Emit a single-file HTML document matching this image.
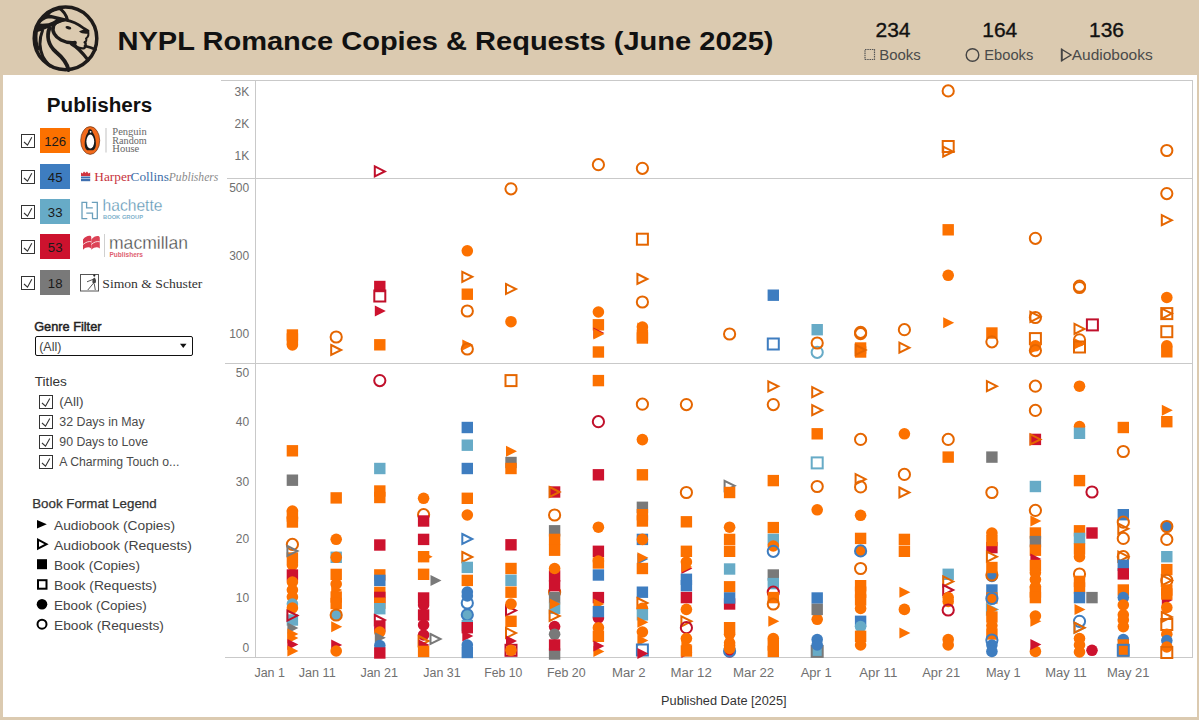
<!DOCTYPE html>
<html><head><meta charset="utf-8"><style>
html,body{margin:0;padding:0;width:1199px;height:720px;overflow:hidden;background:#DBCAB0;}
svg{display:block;font-family:"Liberation Sans", sans-serif;}
</style></head><body>
<svg width="1199" height="720" viewBox="0 0 1199 720">
<rect x="0" y="0" width="1199" height="720" fill="#DBCAB0"/>
<rect x="3" y="75" width="1194" height="642" fill="#fff"/>
<g fill="#1E1B1A">
<path d="M34.5 33 C37 22 46 12 58 7.5 L64 11 L67.5 20 L56 24.5 L49 27.5 L42 30.5 Z"/>
</g>
<g fill="#DBCAB0">
<path d="M49.5 14.6 C52 12 56 10.4 61.5 9.8 C63.5 12.5 65 15.5 66 18.6 C61 17.2 55 15.8 49.5 14.6 Z"/>
<path d="M39.8 23.6 C42 21 45.5 18.8 48 18.5 C51 18.3 54 18.6 56 19.6 C53.5 21.2 51 22.6 48.5 23.2 C46 23.6 43 23.7 39.8 23.6 Z"/>
</g>
<g fill="none" stroke="#1E1B1A" stroke-linecap="round" stroke-linejoin="round">
<circle cx="65.5" cy="38.4" r="31.3" stroke-width="3.5"/>
<path d="M59 8 C63 10.5 66 14 67.5 20" stroke-width="3"/>
<path d="M53.5 26 C56.5 21.5 61 20 66 20.2 C72 21 78 24 84 28.5 L88 31" stroke-width="2.8"/>
<path d="M88 31 C89 34 88 37 86 38.5 C87 40 86 42 84.5 42.5" stroke-width="2"/>
<path d="M53.5 26 C51.5 31 55 37 61 40 C66 42.5 71 43 75 42.5" stroke-width="3.6"/>
<path d="M75 42.5 C74.5 46.5 78 48.8 84 48.3 C86 47.3 86.3 44 85 42" stroke-width="2.4"/>
<path d="M49.5 28 C46.5 36 48 45 56 52 C62 57 67 62 68.5 70" stroke-width="3.9"/>
<path d="M42.5 30.5 C39.5 38 39 48 43 57 C45 61 48 64 50 66" stroke-width="3"/>
<path d="M36.5 31 C35.5 38 36 44 38.5 49" stroke-width="2.8"/>
<path d="M71.5 44 C77 47 82 52 88 60" stroke-width="3.2"/>
<path d="M85 46 C89 47 92 48 95.5 49.5" stroke-width="2.8"/>
</g>
<g fill="#1E1B1A">
<ellipse cx="68.4" cy="27.8" rx="3" ry="1.5" transform="rotate(15 68.4 27.8)"/>
<path d="M79 31.5 C82 29.5 86 29.5 88.5 30.5 L88.5 33.5 C85 34 81 33.5 79 31.5Z"/>
</g>

<text x="117.5" y="49.7" font-size="26.5" fill="#111" font-weight="bold" text-anchor="start" textLength="656" lengthAdjust="spacingAndGlyphs">NYPL Romance Copies &amp; Requests (June 2025)</text>
<text x="893" y="36.75" font-size="20.2" fill="#111" font-weight="normal" text-anchor="middle" stroke="#111" stroke-width="0.35" textLength="35" lengthAdjust="spacingAndGlyphs">234</text>
<text x="999.75" y="36.75" font-size="20.2" fill="#111" font-weight="normal" text-anchor="middle" stroke="#111" stroke-width="0.35" textLength="35" lengthAdjust="spacingAndGlyphs">164</text>
<text x="1106.5" y="36.75" font-size="20.2" fill="#111" font-weight="normal" text-anchor="middle" stroke="#111" stroke-width="0.35" textLength="35" lengthAdjust="spacingAndGlyphs">136</text>
<text x="879.3" y="59.9" font-size="15" fill="#4a4a4a" font-weight="normal" text-anchor="start"  textLength="41.5" lengthAdjust="spacingAndGlyphs">Books</text>
<rect x="865" y="49.5" width="9.5" height="10" fill="none" stroke="#555" stroke-width="1.2" stroke-dasharray="1.5 0.8"/>
<circle cx="972.5" cy="55" r="6.3" fill="none" stroke="#444" stroke-width="1.4"/>
<text x="984.3" y="59.9" font-size="15" fill="#4a4a4a" font-weight="normal" text-anchor="start"  textLength="49" lengthAdjust="spacingAndGlyphs">Ebooks</text>
<path d="M1062 49.5L1071 55L1062 60.5Z" fill="none" stroke="#444" stroke-width="1.4"/>
<line x1="1061.5" y1="48.5" x2="1061.5" y2="61.5" stroke="#444" stroke-width="1.4"/>
<text x="1071.7" y="59.9" font-size="15" fill="#4a4a4a" font-weight="normal" text-anchor="start"  textLength="81" lengthAdjust="spacingAndGlyphs">Audiobooks</text>
<text x="46.8" y="111.6" font-size="19.5" fill="#111" font-weight="bold" text-anchor="start"  textLength="105.5" lengthAdjust="spacingAndGlyphs">Publishers</text>
<rect x="21.5" y="134.5" width="13" height="13" fill="#fff" stroke="#333" stroke-width="1"/>
<path d="M24 142L27.5 145.2L31.8 137.3" fill="none" stroke="#333" stroke-width="1.1"/>
<rect x="40" y="128" width="30" height="25" fill="#FC7100"/>
<text x="55.2" y="146" font-size="13.2" fill="#1a1a1a" font-weight="normal" text-anchor="middle" >126</text>
<rect x="21.5" y="170.5" width="13" height="13" fill="#fff" stroke="#333" stroke-width="1"/>
<path d="M24 178L27.5 181.2L31.8 173.3" fill="none" stroke="#333" stroke-width="1.1"/>
<rect x="40" y="164" width="30" height="25" fill="#3E7DC0"/>
<text x="55.2" y="182" font-size="13.2" fill="#1a1a1a" font-weight="normal" text-anchor="middle" >45</text>
<rect x="21.5" y="205.5" width="13" height="13" fill="#fff" stroke="#333" stroke-width="1"/>
<path d="M24 213L27.5 216.2L31.8 208.3" fill="none" stroke="#333" stroke-width="1.1"/>
<rect x="40" y="199" width="30" height="25" fill="#67ABC7"/>
<text x="55.2" y="217" font-size="13.2" fill="#1a1a1a" font-weight="normal" text-anchor="middle" >33</text>
<rect x="21.5" y="240.5" width="13" height="13" fill="#fff" stroke="#333" stroke-width="1"/>
<path d="M24 248L27.5 251.2L31.8 243.3" fill="none" stroke="#333" stroke-width="1.1"/>
<rect x="40" y="234" width="30" height="25" fill="#CD122E"/>
<text x="55.2" y="252" font-size="13.2" fill="#1a1a1a" font-weight="normal" text-anchor="middle" >53</text>
<rect x="21.5" y="276.5" width="13" height="13" fill="#fff" stroke="#333" stroke-width="1"/>
<path d="M24 284L27.5 287.2L31.8 279.3" fill="none" stroke="#333" stroke-width="1.1"/>
<rect x="40" y="270" width="30" height="25" fill="#797979"/>
<text x="55.2" y="288" font-size="13.2" fill="#1a1a1a" font-weight="normal" text-anchor="middle" >18</text>
<g>
<!-- Penguin -->
<ellipse cx="90.2" cy="140.5" rx="9.5" ry="13.9" fill="#F26A1B" stroke="#6a3010" stroke-width="0.7"/>
<path d="M89.6 129.3 C91.5 129 92.6 130.5 92.6 132.2 C94.8 135 96.3 140.5 95.8 145.5 C95.5 148 94.5 149.6 93.2 150.2 L87.2 150.2 C86 149.6 85 148 84.8 145.5 C84.4 140.5 85.8 135 88 132.2 C88 130.6 88.6 129.6 89.6 129.3Z" fill="#1a1a1a"/>
<ellipse cx="90.3" cy="141.6" rx="3.9" ry="7" fill="#fff"/>
<circle cx="90.6" cy="131.8" r="0.9" fill="#fff"/>
<line x1="106" y1="128" x2="106" y2="152.5" stroke="#cfcfcf" stroke-width="1.3"/>
<text x="112.3" y="135" font-family="Liberation Serif" font-size="9.6" fill="#666" textLength="34.5" lengthAdjust="spacingAndGlyphs">Penguin</text>
<text x="112.3" y="143.7" font-family="Liberation Serif" font-size="9.6" fill="#666" textLength="34.5" lengthAdjust="spacingAndGlyphs">Random</text>
<text x="112.3" y="152.2" font-family="Liberation Serif" font-size="9.6" fill="#666" textLength="27" lengthAdjust="spacingAndGlyphs">House</text>
<!-- HarperCollins -->
<path d="M81 176 L81 172.5 L82.5 173.5 L84 171.5 L85.5 173 L87 171.5 L88.5 173.5 L90.2 172.5 L90.2 176 Z" fill="#D0343F"/>
<rect x="81" y="176.5" width="9.2" height="1.6" fill="#3E6FB0"/>
<rect x="81" y="178.6" width="9.2" height="2.6" fill="#3E6FB0"/>
<text x="94.3" y="180.9" font-family="Liberation Serif" font-size="12.4" fill="#C7333D" textLength="37" lengthAdjust="spacingAndGlyphs">Harper</text>
<text x="130.6" y="180.9" font-family="Liberation Serif" font-size="12.4" fill="#3C6DA8" textLength="38.3" lengthAdjust="spacingAndGlyphs">Collins</text>
<text x="168.8" y="180.9" font-family="Liberation Serif" font-size="12.4" font-style="italic" fill="#8a8a8a" textLength="49.5" lengthAdjust="spacingAndGlyphs">Publishers</text>
<!-- Hachette -->
<g fill="none" stroke="#6A9FBB" stroke-width="1.3">
<path d="M87.3 202.4 H82 V218.6 H87.3"/>
<path d="M86.6 202.4 V207.9 H92.8"/>
<path d="M91.8 202.4 H97.3 V218.6 H92.1"/>
<path d="M92.5 218.6 V213.1 H86.3"/>
</g>
<text x="102.5" y="210.5" font-family="Liberation Sans" font-size="16.5" fill="#5893B3" stroke="#fff" stroke-width="0.3" textLength="60" lengthAdjust="spacingAndGlyphs">hachette</text>
<text x="103" y="218.6" font-family="Liberation Sans" font-size="6" font-weight="bold" fill="#7FB2CC" textLength="40" lengthAdjust="spacingAndGlyphs">BOOK GROUP</text>
<!-- Macmillan -->
<path d="M83 239.5 C85 236.5 88 235.5 90 235.8 C91 236 91.5 237 91.3 238.5 L91.3 248.5 C89 246.5 86 247 83 249.7 Z" fill="#D8394E"/>
<path d="M91.3 239.5 C93.5 236.5 96.5 235.5 98.5 236 C99.5 236.5 100 237.5 99.8 238.5 L99.8 248.5 C97.5 246.5 94.5 247 91.3 249.7 Z" fill="#DC4457"/>
<path d="M83 244.5 C86 242 89 241 91.3 241.8 M91.3 244.5 C94 242 97 241 99.8 241.8" fill="none" stroke="#fff" stroke-width="0.8"/>
<line x1="104.5" y1="234" x2="104.5" y2="257" stroke="#d0d0d0" stroke-width="1"/>
<text x="109" y="249" font-family="Liberation Sans" font-size="19" fill="#444" stroke="#fff" stroke-width="0.35" textLength="79" lengthAdjust="spacingAndGlyphs">macmillan</text>
<text x="109.5" y="257" font-family="Liberation Sans" font-size="6.8" font-weight="bold" fill="#E0606F" textLength="33.5" lengthAdjust="spacingAndGlyphs">Publishers</text>
<!-- Simon & Schuster -->
<rect x="80.5" y="274.5" width="18" height="16.5" fill="none" stroke="#555" stroke-width="1"/>
<circle cx="94.3" cy="275.6" r="1.1" fill="#222"/>
<path d="M94.5 277.5 C96 279 96.5 281 95.5 283 L93 284 C92 282 92 279 94.5 277.5Z" fill="#444"/>
<path d="M93.5 279.2 L87 281.8 M92.8 284 L87.8 290 M94.3 284 L95.3 290" fill="none" stroke="#444" stroke-width="0.9"/>
<text x="102.3" y="288.4" font-family="Liberation Serif" font-size="13.5" fill="#333" textLength="100" lengthAdjust="spacingAndGlyphs">Simon &amp; Schuster</text>
</g>

<text x="34.2" y="330.8" font-size="12.8" fill="#222" font-weight="normal" text-anchor="start" stroke="#222" stroke-width="0.45" textLength="67.3" lengthAdjust="spacingAndGlyphs">Genre Filter</text>
<rect x="35.5" y="336.5" width="157" height="19" rx="1.5" fill="#fff" stroke="#111" stroke-width="1"/>
<text x="39.2" y="350.5" font-size="12.5" fill="#444" font-weight="normal" text-anchor="start"  textLength="22.2" lengthAdjust="spacingAndGlyphs">(All)</text>
<path d="M180 343.8L186.5 343.8L183.25 348Z" fill="#111"/>
<text x="34.8" y="385.6" font-size="12.8" fill="#333" font-weight="normal" text-anchor="start"  textLength="32" lengthAdjust="spacingAndGlyphs">Titles</text>
<rect x="39.5" y="395.5" width="13" height="13" fill="#fff" stroke="#333" stroke-width="1"/>
<path d="M42 403.0L45.5 406.2L49.8 398.5" fill="none" stroke="#333" stroke-width="1.1"/>
<text x="59.3" y="406.3" font-size="12.5" fill="#4a4a4a" font-weight="normal" text-anchor="start"  textLength="24.3" lengthAdjust="spacingAndGlyphs">(All)</text>
<rect x="39.5" y="415.5" width="13" height="13" fill="#fff" stroke="#333" stroke-width="1"/>
<path d="M42 423.0L45.5 426.2L49.8 418.5" fill="none" stroke="#333" stroke-width="1.1"/>
<text x="59.3" y="426.3" font-size="12.5" fill="#4a4a4a" font-weight="normal" text-anchor="start"  textLength="85.4" lengthAdjust="spacingAndGlyphs">32 Days in May</text>
<rect x="39.5" y="435.5" width="13" height="13" fill="#fff" stroke="#333" stroke-width="1"/>
<path d="M42 443.0L45.5 446.2L49.8 438.5" fill="none" stroke="#333" stroke-width="1.1"/>
<text x="59.3" y="446.3" font-size="12.5" fill="#4a4a4a" font-weight="normal" text-anchor="start"  textLength="88.9" lengthAdjust="spacingAndGlyphs">90 Days to Love</text>
<rect x="39.5" y="455.5" width="13" height="13" fill="#fff" stroke="#333" stroke-width="1"/>
<path d="M42 463.0L45.5 466.2L49.8 458.5" fill="none" stroke="#333" stroke-width="1.1"/>
<text x="59.3" y="466.3" font-size="12.5" fill="#4a4a4a" font-weight="normal" text-anchor="start"  textLength="120" lengthAdjust="spacingAndGlyphs">A Charming Touch o...</text>
<text x="32.2" y="507.9" font-size="12.8" fill="#333" font-weight="normal" text-anchor="start" stroke="#333" stroke-width="0.25" textLength="124.5" lengthAdjust="spacingAndGlyphs">Book Format Legend</text>
<path d="M37 519.9000000000001L46.8 524.2L37 528.5Z" fill="#000"/>
<text x="54" y="530" font-size="13" fill="#444" font-weight="normal" text-anchor="start"  textLength="121" lengthAdjust="spacingAndGlyphs">Audiobook (Copies)</text>
<path d="M38 539.7L46.5 544.2L38 548.7Z" fill="none" stroke="#000" stroke-width="2"/>
<text x="54" y="550" font-size="13" fill="#444" font-weight="normal" text-anchor="start"  textLength="138" lengthAdjust="spacingAndGlyphs">Audiobook (Requests)</text>
<rect x="37" y="559.2" width="10" height="10" fill="#000"/>
<text x="54" y="570" font-size="13" fill="#444" font-weight="normal" text-anchor="start"  textLength="85.9" lengthAdjust="spacingAndGlyphs">Book (Copies)</text>
<rect x="38" y="580.2" width="8.5" height="8.5" fill="none" stroke="#000" stroke-width="2"/>
<text x="54" y="590" font-size="13" fill="#444" font-weight="normal" text-anchor="start"  textLength="102.8" lengthAdjust="spacingAndGlyphs">Book (Requests)</text>
<circle cx="42" cy="604.2" r="5.3" fill="#000"/>
<text x="54" y="610" font-size="13" fill="#444" font-weight="normal" text-anchor="start"  textLength="92.8" lengthAdjust="spacingAndGlyphs">Ebook (Copies)</text>
<circle cx="42" cy="624.2" r="4.5" fill="none" stroke="#000" stroke-width="2"/>
<text x="54" y="630" font-size="13" fill="#444" font-weight="normal" text-anchor="start"  textLength="109.9" lengthAdjust="spacingAndGlyphs">Ebook (Requests)</text>
<line x1="221" y1="80.5" x2="1193" y2="80.5" stroke="#C9C9C9" stroke-width="1"/>
<line x1="1192.5" y1="80" x2="1192.5" y2="658" stroke="#C9C9C9" stroke-width="1"/>
<line x1="255.5" y1="80" x2="255.5" y2="658" stroke="#C9C9C9" stroke-width="1"/>
<line x1="227" y1="178.5" x2="1193" y2="178.5" stroke="#C9C9C9" stroke-width="1"/>
<line x1="225" y1="363.5" x2="1193" y2="363.5" stroke="#C9C9C9" stroke-width="1"/>
<line x1="225" y1="657.5" x2="1193" y2="657.5" stroke="#C9C9C9" stroke-width="1"/>
<text x="249.2" y="96.4" font-size="12" fill="#707070" font-weight="normal" text-anchor="end" >3K</text>
<text x="249.2" y="128.0" font-size="12" fill="#707070" font-weight="normal" text-anchor="end" >2K</text>
<text x="249.2" y="160.1" font-size="12" fill="#707070" font-weight="normal" text-anchor="end" >1K</text>
<text x="249.2" y="192.20000000000002" font-size="12" fill="#707070" font-weight="normal" text-anchor="end" >500</text>
<text x="249.2" y="260.2" font-size="12" fill="#707070" font-weight="normal" text-anchor="end" >300</text>
<text x="249.2" y="338.2" font-size="12" fill="#707070" font-weight="normal" text-anchor="end" >100</text>
<text x="249.2" y="377.0" font-size="12" fill="#707070" font-weight="normal" text-anchor="end" >50</text>
<text x="249.2" y="426.09999999999997" font-size="12" fill="#707070" font-weight="normal" text-anchor="end" >40</text>
<text x="249.2" y="485.5" font-size="12" fill="#707070" font-weight="normal" text-anchor="end" >30</text>
<text x="249.2" y="543.3" font-size="12" fill="#707070" font-weight="normal" text-anchor="end" >20</text>
<text x="249.2" y="602.1999999999999" font-size="12" fill="#707070" font-weight="normal" text-anchor="end" >10</text>
<text x="249.2" y="652.1999999999999" font-size="12" fill="#707070" font-weight="normal" text-anchor="end" >0</text>
<text x="269.7" y="677.3" font-size="12" fill="#707070" font-weight="normal" text-anchor="middle"  textLength="30.6" lengthAdjust="spacingAndGlyphs">Jan 1</text>
<text x="317.2" y="677.3" font-size="12" fill="#707070" font-weight="normal" text-anchor="middle"  textLength="37.0" lengthAdjust="spacingAndGlyphs">Jan 11</text>
<text x="379.2" y="677.3" font-size="12" fill="#707070" font-weight="normal" text-anchor="middle"  textLength="37.6" lengthAdjust="spacingAndGlyphs">Jan 21</text>
<text x="442" y="677.3" font-size="12" fill="#707070" font-weight="normal" text-anchor="middle"  textLength="37.3" lengthAdjust="spacingAndGlyphs">Jan 31</text>
<text x="503.3" y="677.3" font-size="12" fill="#707070" font-weight="normal" text-anchor="middle"  textLength="38.0" lengthAdjust="spacingAndGlyphs">Feb 10</text>
<text x="566.3" y="677.3" font-size="12" fill="#707070" font-weight="normal" text-anchor="middle"  textLength="38.6" lengthAdjust="spacingAndGlyphs">Feb 20</text>
<text x="628.8" y="677.3" font-size="12" fill="#707070" font-weight="normal" text-anchor="middle"  textLength="33.6" lengthAdjust="spacingAndGlyphs">Mar 2</text>
<text x="691.2" y="677.3" font-size="12" fill="#707070" font-weight="normal" text-anchor="middle"  textLength="41.2" lengthAdjust="spacingAndGlyphs">Mar 12</text>
<text x="753.6" y="677.3" font-size="12" fill="#707070" font-weight="normal" text-anchor="middle"  textLength="41.2" lengthAdjust="spacingAndGlyphs">Mar 22</text>
<text x="816.2" y="677.3" font-size="12" fill="#707070" font-weight="normal" text-anchor="middle"  textLength="31.1" lengthAdjust="spacingAndGlyphs">Apr 1</text>
<text x="878.3" y="677.3" font-size="12" fill="#707070" font-weight="normal" text-anchor="middle"  textLength="38.0" lengthAdjust="spacingAndGlyphs">Apr 11</text>
<text x="941.2" y="677.3" font-size="12" fill="#707070" font-weight="normal" text-anchor="middle"  textLength="38.0" lengthAdjust="spacingAndGlyphs">Apr 21</text>
<text x="1003.3" y="677.3" font-size="12" fill="#707070" font-weight="normal" text-anchor="middle"  textLength="34.8" lengthAdjust="spacingAndGlyphs">May 1</text>
<text x="1066" y="677.3" font-size="12" fill="#707070" font-weight="normal" text-anchor="middle"  textLength="41.7" lengthAdjust="spacingAndGlyphs">May 11</text>
<text x="1128.2" y="677.3" font-size="12" fill="#707070" font-weight="normal" text-anchor="middle"  textLength="42.6" lengthAdjust="spacingAndGlyphs">May 21</text>
<text x="723.8" y="705.2" font-size="12" fill="#333" font-weight="normal" text-anchor="middle"  textLength="125.5" lengthAdjust="spacingAndGlyphs">Published Date [2025]</text>
<rect x="286.7" y="329.3" width="11.4" height="11.4" fill="#FC7100"/>
<rect x="286.7" y="333.3" width="11.4" height="11.4" fill="#FC7100"/>
<circle cx="292.4" cy="345.0" r="5.8" fill="#FC7100"/>
<rect x="286.7" y="445.1" width="11.4" height="11.4" fill="#FC7100"/>
<rect x="286.7" y="474.5" width="11.4" height="11.4" fill="#797979"/>
<circle cx="292.4" cy="511.0" r="5.8" fill="#FC7100"/>
<rect x="286.7" y="510.3" width="11.4" height="11.4" fill="#FC7100"/>
<circle cx="292.4" cy="518.0" r="5.8" fill="#FC7100"/>
<rect x="286.7" y="516.3" width="11.4" height="11.4" fill="#FC7100"/>
<circle cx="292.4" cy="544.4" r="5.6" fill="none" stroke="#E56600" stroke-width="2"/>
<rect x="286.7" y="552.3" width="11.4" height="11.4" fill="#FC7100"/>
<path d="M287.4 546.0L297.4 551.0L287.4 556.0Z" fill="none" stroke="#797979" stroke-width="2"/>
<circle cx="292.4" cy="565.0" r="5.8" fill="#FC7100"/>
<rect x="286.7" y="569.3" width="11.4" height="11.4" fill="#CD122E"/>
<circle cx="292.4" cy="582.0" r="5.8" fill="#FC7100"/>
<circle cx="292.4" cy="590.0" r="5.8" fill="#FC7100"/>
<circle cx="292.4" cy="597.0" r="5.8" fill="#FC7100"/>
<circle cx="292.4" cy="604.0" r="5.8" fill="#67ABC7"/>
<circle cx="292.4" cy="608.0" r="5.8" fill="#FC7100"/>
<rect x="286.7" y="614.3" width="11.4" height="11.4" fill="#67ABC7"/>
<path d="M287.4 610.6L297.4 615.6L287.4 620.6Z" fill="none" stroke="#C0102B" stroke-width="2"/>
<path d="M287.4 622.5L298.4 628.0L287.4 633.5Z" fill="#797979"/>
<path d="M287.4 628.5L298.4 634.0L287.4 639.5Z" fill="#FC7100"/>
<path d="M287.4 632.5L298.4 638.0L287.4 643.5Z" fill="#FC7100"/>
<path d="M287.4 638.9L298.4 644.4L287.4 649.9Z" fill="#CD122E"/>
<path d="M287.4 645.5L298.4 651.0L287.4 656.5Z" fill="#FC7100"/>
<circle cx="336.2" cy="337.0" r="5.6" fill="none" stroke="#E56600" stroke-width="2"/>
<path d="M331.2 345.0L341.2 350.0L331.2 355.0Z" fill="none" stroke="#E56600" stroke-width="2"/>
<rect x="330.5" y="492.2" width="11.4" height="11.4" fill="#FC7100"/>
<circle cx="336.2" cy="539.3" r="5.8" fill="#FC7100"/>
<rect x="330.5" y="551.6" width="11.4" height="11.4" fill="#67ABC7"/>
<circle cx="336.2" cy="557.3" r="5.8" fill="#FC7100"/>
<rect x="330.5" y="568.7" width="11.4" height="11.4" fill="#FC7100"/>
<circle cx="336.2" cy="584.0" r="5.8" fill="#FC7100"/>
<path d="M331.2 584.5L342.2 590.0L331.2 595.5Z" fill="#FC7100"/>
<rect x="330.5" y="591.3" width="11.4" height="11.4" fill="#FC7100"/>
<rect x="330.5" y="597.8" width="11.4" height="11.4" fill="#FC7100"/>
<circle cx="336.2" cy="615.0" r="5.8" fill="#67ABC7"/>
<circle cx="336.2" cy="615.0" r="5.6" fill="none" stroke="#E56600" stroke-width="2"/>
<path d="M331.2 621.2L342.2 626.7L331.2 632.2Z" fill="#FC7100"/>
<path d="M331.2 639.5L342.2 645.0L331.2 650.5Z" fill="#CD122E"/>
<circle cx="336.2" cy="651.0" r="5.8" fill="#FC7100"/>
<path d="M374.8 166.4L384.8 171.4L374.8 176.4Z" fill="none" stroke="#C0102B" stroke-width="2"/>
<rect x="374.1" y="280.8" width="11.4" height="11.4" fill="#CD122E"/>
<rect x="374.3" y="290.5" width="11.0" height="11.0" fill="none" stroke="#C0102B" stroke-width="2"/>
<path d="M374.8 305.5L385.8 311.0L374.8 316.5Z" fill="#CD122E"/>
<rect x="374.1" y="339.1" width="11.4" height="11.4" fill="#FC7100"/>
<circle cx="379.8" cy="380.6" r="5.6" fill="none" stroke="#C0102B" stroke-width="2"/>
<rect x="374.1" y="462.8" width="11.4" height="11.4" fill="#67ABC7"/>
<rect x="374.1" y="485.3" width="11.4" height="11.4" fill="#FC7100"/>
<rect x="374.1" y="491.8" width="11.4" height="11.4" fill="#FC7100"/>
<rect x="374.1" y="539.3" width="11.4" height="11.4" fill="#CD122E"/>
<rect x="374.1" y="569.2" width="11.4" height="11.4" fill="#FC7100"/>
<rect x="374.1" y="574.7" width="11.4" height="11.4" fill="#3E7DC0"/>
<rect x="374.1" y="586.7" width="11.4" height="11.4" fill="#FC7100"/>
<rect x="374.1" y="591.7" width="11.4" height="11.4" fill="#CD122E"/>
<rect x="374.1" y="597.5" width="11.4" height="11.4" fill="#FC7100"/>
<rect x="374.1" y="603.0" width="11.4" height="11.4" fill="#67ABC7"/>
<path d="M374.8 615.0L384.8 620.0L374.8 625.0Z" fill="none" stroke="#C0102B" stroke-width="2"/>
<rect x="374.1" y="620.3" width="11.4" height="11.4" fill="#CD122E"/>
<circle cx="379.8" cy="632.0" r="5.8" fill="#FC7100"/>
<path d="M374.8 632.3L385.8 637.8L374.8 643.3Z" fill="#797979"/>
<circle cx="379.8" cy="645.5" r="5.8" fill="#3E7DC0"/>
<rect x="374.1" y="647.3" width="11.4" height="11.4" fill="#CD122E"/>
<circle cx="423.6" cy="498.3" r="5.8" fill="#FC7100"/>
<circle cx="423.6" cy="514.7" r="5.6" fill="none" stroke="#E56600" stroke-width="2"/>
<rect x="417.9" y="515.3" width="11.4" height="11.4" fill="#CD122E"/>
<rect x="417.9" y="533.7" width="11.4" height="11.4" fill="#CD122E"/>
<rect x="417.9" y="551.0" width="11.4" height="11.4" fill="#FC7100"/>
<path d="M421.6 551.2L432.6 556.7L421.6 562.2Z" fill="#FC7100"/>
<rect x="417.9" y="568.6" width="11.4" height="11.4" fill="#FC7100"/>
<rect x="417.9" y="592.3" width="11.4" height="11.4" fill="#CD122E"/>
<circle cx="423.6" cy="605.0" r="5.8" fill="#CD122E"/>
<rect x="417.9" y="609.3" width="11.4" height="11.4" fill="#CD122E"/>
<circle cx="423.6" cy="625.0" r="5.8" fill="#CD122E"/>
<circle cx="423.6" cy="635.0" r="5.8" fill="#CD122E"/>
<path d="M418.6 636.0L428.6 641.0L418.6 646.0Z" fill="none" stroke="#E56600" stroke-width="2"/>
<path d="M418.6 639.5L429.6 645.0L418.6 650.5Z" fill="#CD122E"/>
<rect x="417.9" y="645.7" width="11.4" height="11.4" fill="#FC7100"/>
<circle cx="467.3" cy="250.8" r="5.8" fill="#FC7100"/>
<path d="M462.3 271.8L472.3 276.8L462.3 281.8Z" fill="none" stroke="#E56600" stroke-width="2"/>
<rect x="461.6" y="288.5" width="11.4" height="11.4" fill="#FC7100"/>
<circle cx="467.3" cy="311.0" r="5.6" fill="none" stroke="#E56600" stroke-width="2"/>
<path d="M462.3 339.5L473.3 345.0L462.3 350.5Z" fill="#FC7100"/>
<circle cx="467.3" cy="349.0" r="5.6" fill="none" stroke="#E56600" stroke-width="2"/>
<rect x="461.6" y="421.8" width="11.4" height="11.4" fill="#3E7DC0"/>
<rect x="461.6" y="439.5" width="11.4" height="11.4" fill="#67ABC7"/>
<rect x="461.6" y="462.8" width="11.4" height="11.4" fill="#3E7DC0"/>
<rect x="461.6" y="492.6" width="11.4" height="11.4" fill="#FC7100"/>
<circle cx="467.3" cy="515.0" r="5.8" fill="#FC7100"/>
<path d="M462.3 534.0L472.3 539.0L462.3 544.0Z" fill="none" stroke="#3E7DC0" stroke-width="2"/>
<path d="M462.3 552.0L472.3 557.0L462.3 562.0Z" fill="none" stroke="#E56600" stroke-width="2"/>
<rect x="461.6" y="561.7" width="11.4" height="11.4" fill="#67ABC7"/>
<rect x="461.6" y="574.7" width="11.4" height="11.4" fill="#FC7100"/>
<circle cx="467.3" cy="592.0" r="5.8" fill="#3E7DC0"/>
<circle cx="467.3" cy="603.0" r="5.6" fill="none" stroke="#3E7DC0" stroke-width="2"/>
<circle cx="467.3" cy="596.0" r="5.8" fill="#3E7DC0"/>
<circle cx="467.3" cy="614.8" r="5.8" fill="#67ABC7"/>
<circle cx="467.3" cy="614.8" r="5.6" fill="none" stroke="#3E7DC0" stroke-width="2"/>
<rect x="461.6" y="619.9" width="11.4" height="11.4" fill="#67ABC7"/>
<rect x="461.6" y="622.0" width="11.4" height="11.4" fill="#CD122E"/>
<path d="M462.3 630.5L473.3 636.0L462.3 641.5Z" fill="#CD122E"/>
<circle cx="467.3" cy="645.0" r="5.8" fill="#3E7DC0"/>
<rect x="461.6" y="646.8" width="11.4" height="11.4" fill="#3E7DC0"/>
<circle cx="511.0" cy="188.8" r="5.6" fill="none" stroke="#E56600" stroke-width="2"/>
<path d="M506.0 284.0L516.0 289.0L506.0 294.0Z" fill="none" stroke="#E56600" stroke-width="2"/>
<circle cx="511.0" cy="321.7" r="5.8" fill="#FC7100"/>
<rect x="505.5" y="375.1" width="11.0" height="11.0" fill="none" stroke="#E56600" stroke-width="2"/>
<path d="M506.0 445.7L517.0 451.2L506.0 456.7Z" fill="#FC7100"/>
<rect x="505.3" y="456.8" width="11.4" height="11.4" fill="#797979"/>
<rect x="505.3" y="462.8" width="11.4" height="11.4" fill="#FC7100"/>
<rect x="505.3" y="539.1" width="11.4" height="11.4" fill="#CD122E"/>
<rect x="505.3" y="562.8" width="11.4" height="11.4" fill="#FC7100"/>
<rect x="505.3" y="574.6" width="11.4" height="11.4" fill="#67ABC7"/>
<rect x="505.3" y="586.5" width="11.4" height="11.4" fill="#FC7100"/>
<path d="M506.0 605.5L516.0 610.5L506.0 615.5Z" fill="none" stroke="#C0102B" stroke-width="2"/>
<circle cx="511.0" cy="604.0" r="5.8" fill="#FC7100"/>
<rect x="505.3" y="615.6" width="11.4" height="11.4" fill="#FC7100"/>
<path d="M506.0 628.0L516.0 633.0L506.0 638.0Z" fill="none" stroke="#E56600" stroke-width="2"/>
<path d="M506.0 635.5L517.0 641.0L506.0 646.5Z" fill="#CD122E"/>
<rect x="505.5" y="644.8" width="11.0" height="11.0" fill="none" stroke="#C0102B" stroke-width="2"/>
<circle cx="511.0" cy="650.3" r="5.8" fill="#FC7100"/>
<rect x="548.9" y="486.3" width="11.4" height="11.4" fill="#CD122E"/>
<path d="M549.6 487.0L559.6 492.0L549.6 497.0Z" fill="none" stroke="#E56600" stroke-width="2"/>
<circle cx="554.6" cy="515.0" r="5.6" fill="none" stroke="#E56600" stroke-width="2"/>
<rect x="548.9" y="525.1" width="11.4" height="11.4" fill="#797979"/>
<rect x="548.9" y="533.7" width="11.4" height="11.4" fill="#FC7100"/>
<rect x="548.9" y="544.5" width="11.4" height="11.4" fill="#FC7100"/>
<rect x="548.9" y="570.3" width="11.4" height="11.4" fill="#CD122E"/>
<circle cx="554.6" cy="568.5" r="5.8" fill="#FC7100"/>
<circle cx="554.6" cy="592.2" r="5.6" fill="none" stroke="#E56600" stroke-width="2"/>
<rect x="548.9" y="580.0" width="11.4" height="11.4" fill="#CD122E"/>
<rect x="548.9" y="591.9" width="11.4" height="11.4" fill="#797979"/>
<rect x="548.9" y="602.6" width="11.4" height="11.4" fill="#67ABC7"/>
<path d="M549.6 598.5L560.6 604.0L549.6 609.5Z" fill="#FC7100"/>
<path d="M549.6 610.9L559.6 615.9L549.6 620.9Z" fill="none" stroke="#E56600" stroke-width="2"/>
<circle cx="554.6" cy="626.6" r="5.8" fill="#CD122E"/>
<circle cx="554.6" cy="634.2" r="5.8" fill="#797979"/>
<rect x="548.9" y="648.3" width="11.4" height="11.4" fill="#797979"/>
<rect x="548.9" y="639.3" width="11.4" height="11.4" fill="#CD122E"/>
<circle cx="598.4" cy="164.7" r="5.6" fill="none" stroke="#E56600" stroke-width="2"/>
<circle cx="598.4" cy="312.0" r="5.8" fill="#FC7100"/>
<rect x="592.7" y="319.1" width="11.4" height="11.4" fill="#FC7100"/>
<path d="M593.4 327.5L604.4 333.0L593.4 338.5Z" fill="#CD122E"/>
<path d="M593.4 328.5L604.4 334.0L593.4 339.5Z" fill="#FC7100"/>
<rect x="592.7" y="346.3" width="11.4" height="11.4" fill="#FC7100"/>
<rect x="592.7" y="374.9" width="11.4" height="11.4" fill="#FC7100"/>
<circle cx="598.4" cy="421.7" r="5.6" fill="none" stroke="#C0102B" stroke-width="2"/>
<rect x="592.7" y="469.1" width="11.4" height="11.4" fill="#CD122E"/>
<circle cx="598.4" cy="527.2" r="5.8" fill="#FC7100"/>
<rect x="592.7" y="545.6" width="11.4" height="11.4" fill="#CD122E"/>
<circle cx="598.4" cy="561.0" r="5.8" fill="#FC7100"/>
<rect x="592.7" y="557.3" width="11.4" height="11.4" fill="#FC7100"/>
<rect x="592.7" y="569.3" width="11.4" height="11.4" fill="#3E7DC0"/>
<rect x="592.7" y="591.9" width="11.4" height="11.4" fill="#CD122E"/>
<path d="M593.4 598.5L604.4 604.0L593.4 609.5Z" fill="#FC7100"/>
<circle cx="598.4" cy="618.0" r="5.8" fill="#CD122E"/>
<rect x="592.7" y="605.9" width="11.4" height="11.4" fill="#3E7DC0"/>
<circle cx="598.4" cy="627.7" r="5.8" fill="#FC7100"/>
<rect x="592.7" y="630.6" width="11.4" height="11.4" fill="#FC7100"/>
<path d="M593.4 645.9L604.4 651.4L593.4 656.9Z" fill="#FC7100"/>
<path d="M593.4 640.5L604.4 646.0L593.4 651.5Z" fill="#CD122E"/>
<circle cx="642.4" cy="168.3" r="5.6" fill="none" stroke="#E56600" stroke-width="2"/>
<rect x="636.9" y="233.7" width="11.0" height="11.0" fill="none" stroke="#E56600" stroke-width="2"/>
<path d="M637.4 274.0L647.4 279.0L637.4 284.0Z" fill="none" stroke="#E56600" stroke-width="2"/>
<circle cx="642.4" cy="302.0" r="5.6" fill="none" stroke="#E56600" stroke-width="2"/>
<circle cx="642.4" cy="327.0" r="5.8" fill="#FC7100"/>
<path d="M637.4 322.5L648.4 328.0L637.4 333.5Z" fill="#FC7100"/>
<rect x="636.7" y="329.3" width="11.4" height="11.4" fill="#FC7100"/>
<rect x="636.7" y="332.3" width="11.4" height="11.4" fill="#FC7100"/>
<circle cx="642.4" cy="404.2" r="5.6" fill="none" stroke="#E56600" stroke-width="2"/>
<circle cx="642.4" cy="439.6" r="5.8" fill="#FC7100"/>
<rect x="636.7" y="469.1" width="11.4" height="11.4" fill="#FC7100"/>
<rect x="636.7" y="501.6" width="11.4" height="11.4" fill="#797979"/>
<rect x="636.7" y="509.0" width="11.4" height="11.4" fill="#FC7100"/>
<rect x="636.7" y="515.3" width="11.4" height="11.4" fill="#FC7100"/>
<rect x="636.7" y="533.7" width="11.4" height="11.4" fill="#3E7DC0"/>
<circle cx="642.4" cy="539.4" r="5.8" fill="#FC7100"/>
<path d="M637.4 553.5L648.4 559.0L637.4 564.5Z" fill="#3E7DC0"/>
<path d="M637.4 552.2L648.4 557.7L637.4 563.2Z" fill="#FC7100"/>
<rect x="636.7" y="562.8" width="11.4" height="11.4" fill="#FC7100"/>
<rect x="636.7" y="586.5" width="11.4" height="11.4" fill="#3E7DC0"/>
<path d="M637.4 598.0L647.4 603.0L637.4 608.0Z" fill="none" stroke="#E56600" stroke-width="2"/>
<circle cx="642.4" cy="608.3" r="5.8" fill="#FC7100"/>
<rect x="636.7" y="609.1" width="11.4" height="11.4" fill="#67ABC7"/>
<path d="M637.4 616.8L648.4 622.3L637.4 627.8Z" fill="#FC7100"/>
<circle cx="642.4" cy="632.0" r="5.8" fill="#FC7100"/>
<path d="M637.4 635.1L648.4 640.6L637.4 646.1Z" fill="#FC7100"/>
<rect x="636.9" y="644.5" width="11.0" height="11.0" fill="none" stroke="#3E7DC0" stroke-width="2"/>
<path d="M637.4 648.0L648.4 653.5L637.4 659.0Z" fill="#CD122E"/>
<circle cx="686.4" cy="404.6" r="5.6" fill="none" stroke="#E56600" stroke-width="2"/>
<circle cx="686.4" cy="492.5" r="5.6" fill="none" stroke="#E56600" stroke-width="2"/>
<rect x="680.7" y="516.1" width="11.4" height="11.4" fill="#FC7100"/>
<rect x="680.7" y="545.6" width="11.4" height="11.4" fill="#FC7100"/>
<path d="M681.4 563.0L692.4 568.5L681.4 574.0Z" fill="#CD122E"/>
<circle cx="686.4" cy="562.0" r="5.8" fill="#FC7100"/>
<path d="M681.4 561.5L692.4 567.0L681.4 572.5Z" fill="#FC7100"/>
<rect x="680.7" y="573.6" width="11.4" height="11.4" fill="#3E7DC0"/>
<rect x="680.7" y="580.0" width="11.4" height="11.4" fill="#3E7DC0"/>
<rect x="680.7" y="591.9" width="11.4" height="11.4" fill="#CD122E"/>
<circle cx="686.4" cy="609.4" r="5.8" fill="#FC7100"/>
<path d="M681.4 616.3L691.4 621.3L681.4 626.3Z" fill="none" stroke="#E56600" stroke-width="2"/>
<circle cx="686.4" cy="627.7" r="5.6" fill="none" stroke="#C0102B" stroke-width="2"/>
<circle cx="686.4" cy="638.5" r="5.8" fill="#FC7100"/>
<path d="M681.4 647.0L692.4 652.5L681.4 658.0Z" fill="#CD122E"/>
<path d="M681.4 639.5L692.4 645.0L681.4 650.5Z" fill="#FC7100"/>
<rect x="680.7" y="645.3" width="11.4" height="11.4" fill="#FC7100"/>
<circle cx="729.6" cy="334.0" r="5.6" fill="none" stroke="#E56600" stroke-width="2"/>
<path d="M724.6 480.8L734.6 485.8L724.6 490.8Z" fill="none" stroke="#797979" stroke-width="2"/>
<rect x="723.9" y="486.8" width="11.4" height="11.4" fill="#FC7100"/>
<circle cx="729.6" cy="527.2" r="5.8" fill="#FC7100"/>
<rect x="723.9" y="533.7" width="11.4" height="11.4" fill="#FC7100"/>
<rect x="723.9" y="545.6" width="11.4" height="11.4" fill="#FC7100"/>
<rect x="723.9" y="563.3" width="11.4" height="11.4" fill="#67ABC7"/>
<rect x="723.9" y="581.1" width="11.4" height="11.4" fill="#FC7100"/>
<rect x="723.9" y="598.3" width="11.4" height="11.4" fill="#CD122E"/>
<rect x="723.9" y="592.3" width="11.4" height="11.4" fill="#3E7DC0"/>
<rect x="723.9" y="622.0" width="11.4" height="11.4" fill="#FC7100"/>
<circle cx="729.6" cy="634.2" r="5.8" fill="#FC7100"/>
<circle cx="729.6" cy="652.0" r="5.8" fill="#CD122E"/>
<circle cx="729.6" cy="651.0" r="5.6" fill="none" stroke="#3E7DC0" stroke-width="2"/>
<circle cx="729.6" cy="642.8" r="5.8" fill="#FC7100"/>
<circle cx="729.6" cy="645.5" r="5.8" fill="#FC7100"/>
<circle cx="729.6" cy="648.5" r="5.8" fill="#FC7100"/>
<rect x="767.6" y="289.5" width="11.4" height="11.4" fill="#3E7DC0"/>
<rect x="767.8" y="338.5" width="11.0" height="11.0" fill="none" stroke="#3E7DC0" stroke-width="2"/>
<path d="M768.3 381.3L778.3 386.3L768.3 391.3Z" fill="none" stroke="#E56600" stroke-width="2"/>
<circle cx="773.3" cy="404.6" r="5.6" fill="none" stroke="#E56600" stroke-width="2"/>
<rect x="767.6" y="474.9" width="11.4" height="11.4" fill="#FC7100"/>
<rect x="767.6" y="521.9" width="11.4" height="11.4" fill="#FC7100"/>
<rect x="767.6" y="533.7" width="11.4" height="11.4" fill="#67ABC7"/>
<circle cx="773.3" cy="546.0" r="5.8" fill="#FC7100"/>
<circle cx="773.3" cy="551.3" r="5.6" fill="none" stroke="#3E7DC0" stroke-width="2"/>
<rect x="767.6" y="569.3" width="11.4" height="11.4" fill="#797979"/>
<rect x="767.6" y="577.9" width="11.4" height="11.4" fill="#67ABC7"/>
<circle cx="773.3" cy="592.2" r="5.6" fill="none" stroke="#C0102B" stroke-width="2"/>
<rect x="767.6" y="591.9" width="11.4" height="11.4" fill="#FC7100"/>
<circle cx="773.3" cy="604.0" r="5.6" fill="none" stroke="#E56600" stroke-width="2"/>
<path d="M768.3 615.8L779.3 621.3L768.3 626.8Z" fill="#FC7100"/>
<circle cx="773.3" cy="638.5" r="5.8" fill="#FC7100"/>
<rect x="767.6" y="639.3" width="11.4" height="11.4" fill="#FC7100"/>
<rect x="767.6" y="645.7" width="11.4" height="11.4" fill="#FC7100"/>
<rect x="811.5" y="324.0" width="11.4" height="11.4" fill="#67ABC7"/>
<circle cx="817.2" cy="352.3" r="5.6" fill="none" stroke="#67ABC7" stroke-width="2"/>
<circle cx="817.2" cy="343.0" r="5.6" fill="none" stroke="#E56600" stroke-width="2"/>
<path d="M812.2 387.2L822.2 392.2L812.2 397.2Z" fill="none" stroke="#E56600" stroke-width="2"/>
<path d="M812.2 405.2L822.2 410.2L812.2 415.2Z" fill="none" stroke="#E56600" stroke-width="2"/>
<rect x="811.5" y="428.1" width="11.4" height="11.4" fill="#FC7100"/>
<rect x="811.7" y="457.4" width="11.0" height="11.0" fill="none" stroke="#67ABC7" stroke-width="2"/>
<circle cx="817.2" cy="486.5" r="5.6" fill="none" stroke="#E56600" stroke-width="2"/>
<circle cx="817.2" cy="509.8" r="5.8" fill="#FC7100"/>
<rect x="811.5" y="592.3" width="11.4" height="11.4" fill="#3E7DC0"/>
<circle cx="817.2" cy="619.3" r="5.8" fill="#FC7100"/>
<rect x="811.5" y="603.7" width="11.4" height="11.4" fill="#797979"/>
<rect x="811.5" y="645.7" width="11.4" height="11.4" fill="#67ABC7"/>
<rect x="811.7" y="645.9" width="11.0" height="11.0" fill="none" stroke="#797979" stroke-width="2"/>
<circle cx="817.2" cy="639.5" r="5.8" fill="#3E7DC0"/>
<circle cx="817.2" cy="645.0" r="5.8" fill="#3E7DC0"/>
<circle cx="860.6" cy="332.3" r="5.6" fill="none" stroke="#E56600" stroke-width="2"/>
<circle cx="860.6" cy="333.7" r="5.6" fill="none" stroke="#E56600" stroke-width="2"/>
<rect x="854.9" y="342.3" width="11.4" height="11.4" fill="#FC7100"/>
<rect x="854.9" y="346.3" width="11.4" height="11.4" fill="#FC7100"/>
<path d="M855.6 345.0L865.6 350.0L855.6 355.0Z" fill="none" stroke="#E56600" stroke-width="2"/>
<circle cx="860.6" cy="439.4" r="5.6" fill="none" stroke="#E56600" stroke-width="2"/>
<path d="M855.6 474.2L865.6 479.2L855.6 484.2Z" fill="none" stroke="#E56600" stroke-width="2"/>
<circle cx="860.6" cy="486.9" r="5.6" fill="none" stroke="#E56600" stroke-width="2"/>
<circle cx="860.6" cy="515.3" r="5.8" fill="#FC7100"/>
<rect x="854.9" y="532.7" width="11.4" height="11.4" fill="#FC7100"/>
<circle cx="860.6" cy="550.9" r="5.8" fill="#FC7100"/>
<circle cx="860.6" cy="550.9" r="5.6" fill="none" stroke="#3E7DC0" stroke-width="2"/>
<circle cx="860.6" cy="568.5" r="5.6" fill="none" stroke="#E56600" stroke-width="2"/>
<rect x="854.9" y="580.0" width="11.4" height="11.4" fill="#FC7100"/>
<rect x="854.9" y="586.5" width="11.4" height="11.4" fill="#FC7100"/>
<rect x="854.9" y="594.3" width="11.4" height="11.4" fill="#FC7100"/>
<circle cx="860.6" cy="608.5" r="5.8" fill="#FC7100"/>
<rect x="854.9" y="615.6" width="11.4" height="11.4" fill="#3E7DC0"/>
<circle cx="860.6" cy="626.6" r="5.8" fill="#67ABC7"/>
<rect x="854.9" y="630.6" width="11.4" height="11.4" fill="#FC7100"/>
<circle cx="860.6" cy="645.0" r="5.8" fill="#FC7100"/>
<circle cx="904.4" cy="329.7" r="5.6" fill="none" stroke="#E56600" stroke-width="2"/>
<path d="M899.4 342.7L909.4 347.7L899.4 352.7Z" fill="none" stroke="#E56600" stroke-width="2"/>
<circle cx="904.4" cy="433.8" r="5.8" fill="#FC7100"/>
<circle cx="904.4" cy="474.4" r="5.6" fill="none" stroke="#E56600" stroke-width="2"/>
<path d="M899.4 487.5L909.4 492.5L899.4 497.5Z" fill="none" stroke="#E56600" stroke-width="2"/>
<rect x="898.7" y="533.7" width="11.4" height="11.4" fill="#FC7100"/>
<rect x="898.7" y="545.6" width="11.4" height="11.4" fill="#FC7100"/>
<path d="M899.4 586.7L910.4 592.2L899.4 597.7Z" fill="#FC7100"/>
<circle cx="904.4" cy="609.4" r="5.8" fill="#FC7100"/>
<path d="M899.4 627.6L910.4 633.1L899.4 638.6Z" fill="#FC7100"/>
<circle cx="948.2" cy="90.9" r="5.6" fill="none" stroke="#E56600" stroke-width="2"/>
<rect x="942.7" y="141.0" width="11.0" height="11.0" fill="none" stroke="#E56600" stroke-width="2"/>
<path d="M943.2 146.7L953.2 151.7L943.2 156.7Z" fill="none" stroke="#E56600" stroke-width="2"/>
<rect x="942.5" y="224.1" width="11.4" height="11.4" fill="#FC7100"/>
<circle cx="948.2" cy="275.3" r="5.8" fill="#FC7100"/>
<path d="M943.2 317.3L954.2 322.8L943.2 328.3Z" fill="#FC7100"/>
<circle cx="948.2" cy="439.4" r="5.6" fill="none" stroke="#E56600" stroke-width="2"/>
<rect x="942.5" y="451.4" width="11.4" height="11.4" fill="#FC7100"/>
<rect x="942.5" y="568.6" width="11.4" height="11.4" fill="#67ABC7"/>
<path d="M943.2 576.4L953.2 581.4L943.2 586.4Z" fill="none" stroke="#E56600" stroke-width="2"/>
<path d="M943.2 585.0L953.2 590.0L943.2 595.0Z" fill="none" stroke="#C0102B" stroke-width="2"/>
<circle cx="948.2" cy="597.6" r="5.8" fill="#FC7100"/>
<circle cx="948.2" cy="601.5" r="5.8" fill="#FC7100"/>
<circle cx="948.2" cy="610.0" r="5.6" fill="none" stroke="#C0102B" stroke-width="2"/>
<circle cx="948.2" cy="639.5" r="5.8" fill="#FC7100"/>
<circle cx="948.2" cy="645.0" r="5.8" fill="#FC7100"/>
<rect x="986.2" y="327.3" width="11.4" height="11.4" fill="#FC7100"/>
<circle cx="991.9" cy="341.8" r="5.6" fill="none" stroke="#E56600" stroke-width="2"/>
<path d="M986.9 381.2L996.9 386.2L986.9 391.2Z" fill="none" stroke="#E56600" stroke-width="2"/>
<rect x="986.2" y="451.4" width="11.4" height="11.4" fill="#797979"/>
<circle cx="991.9" cy="492.5" r="5.6" fill="none" stroke="#E56600" stroke-width="2"/>
<rect x="986.2" y="541.9" width="11.4" height="11.4" fill="#CD122E"/>
<circle cx="991.9" cy="533.0" r="5.8" fill="#FC7100"/>
<rect x="986.2" y="534.8" width="11.4" height="11.4" fill="#FC7100"/>
<path d="M986.9 551.7L996.9 556.7L986.9 561.7Z" fill="none" stroke="#E56600" stroke-width="2"/>
<circle cx="991.9" cy="576.5" r="5.8" fill="#3E7DC0"/>
<circle cx="991.9" cy="575.0" r="5.6" fill="none" stroke="#E56600" stroke-width="2"/>
<rect x="986.2" y="561.8" width="11.4" height="11.4" fill="#FC7100"/>
<rect x="986.2" y="584.3" width="11.4" height="11.4" fill="#3E7DC0"/>
<rect x="986.2" y="592.3" width="11.4" height="11.4" fill="#FC7100"/>
<circle cx="991.9" cy="598.5" r="5.6" fill="none" stroke="#3E7DC0" stroke-width="2"/>
<path d="M986.9 604.5L996.9 609.5L986.9 614.5Z" fill="none" stroke="#67ABC7" stroke-width="2"/>
<path d="M986.9 604.0L997.9 609.5L986.9 615.0Z" fill="#FC7100"/>
<rect x="986.2" y="611.3" width="11.4" height="11.4" fill="#FC7100"/>
<circle cx="991.9" cy="625.6" r="5.8" fill="#FC7100"/>
<rect x="986.2" y="628.3" width="11.4" height="11.4" fill="#FC7100"/>
<circle cx="991.9" cy="640.0" r="5.6" fill="none" stroke="#3E7DC0" stroke-width="2"/>
<circle cx="991.9" cy="645.0" r="5.8" fill="#3E7DC0"/>
<circle cx="991.9" cy="651.4" r="5.8" fill="#3E7DC0"/>
<circle cx="1035.4" cy="238.3" r="5.6" fill="none" stroke="#E56600" stroke-width="2"/>
<path d="M1030.4 311.8L1040.4 316.8L1030.4 321.8Z" fill="none" stroke="#E56600" stroke-width="2"/>
<circle cx="1035.4" cy="317.5" r="5.6" fill="none" stroke="#E56600" stroke-width="2"/>
<rect x="1029.9" y="333.1" width="11.0" height="11.0" fill="none" stroke="#E56600" stroke-width="2"/>
<circle cx="1035.4" cy="345.8" r="5.8" fill="#FC7100"/>
<path d="M1030.4 342.5L1041.4 348.0L1030.4 353.5Z" fill="#FC7100"/>
<circle cx="1035.4" cy="350.6" r="5.6" fill="none" stroke="#E56600" stroke-width="2"/>
<circle cx="1035.4" cy="386.2" r="5.6" fill="none" stroke="#E56600" stroke-width="2"/>
<circle cx="1035.4" cy="410.4" r="5.6" fill="none" stroke="#E56600" stroke-width="2"/>
<rect x="1029.7" y="433.7" width="11.4" height="11.4" fill="#CD122E"/>
<path d="M1030.4 434.4L1040.4 439.4L1030.4 444.4Z" fill="none" stroke="#E56600" stroke-width="2"/>
<rect x="1029.7" y="480.8" width="11.4" height="11.4" fill="#67ABC7"/>
<circle cx="1035.4" cy="510.4" r="5.6" fill="none" stroke="#E56600" stroke-width="2"/>
<path d="M1030.4 515.5L1041.4 521.0L1030.4 526.5Z" fill="#FC7100"/>
<rect x="1029.7" y="527.3" width="11.4" height="11.4" fill="#FC7100"/>
<rect x="1029.7" y="535.9" width="11.4" height="11.4" fill="#797979"/>
<rect x="1029.7" y="544.5" width="11.4" height="11.4" fill="#FC7100"/>
<path d="M1030.4 553.5L1041.4 559.0L1030.4 564.5Z" fill="#CD122E"/>
<rect x="1029.7" y="559.8" width="11.4" height="11.4" fill="#FC7100"/>
<circle cx="1035.4" cy="572.8" r="5.8" fill="#FC7100"/>
<circle cx="1035.4" cy="579.5" r="5.8" fill="#FC7100"/>
<circle cx="1035.4" cy="586.8" r="5.8" fill="#FC7100"/>
<rect x="1029.7" y="586.3" width="11.4" height="11.4" fill="#FC7100"/>
<rect x="1029.7" y="591.9" width="11.4" height="11.4" fill="#FC7100"/>
<circle cx="1035.4" cy="616.0" r="5.8" fill="#FC7100"/>
<path d="M1030.4 615.8L1041.4 621.3L1030.4 626.8Z" fill="#FC7100"/>
<circle cx="1035.4" cy="651.4" r="5.8" fill="#FC7100"/>
<path d="M1030.4 639.0L1041.4 644.5L1030.4 650.0Z" fill="#CD122E"/>
<circle cx="1079.5" cy="286.2" r="5.6" fill="none" stroke="#E56600" stroke-width="2"/>
<circle cx="1079.5" cy="287.5" r="5.6" fill="none" stroke="#E56600" stroke-width="2"/>
<path d="M1074.5 323.9L1084.5 328.9L1074.5 333.9Z" fill="none" stroke="#E56600" stroke-width="2"/>
<circle cx="1079.5" cy="339.8" r="5.6" fill="none" stroke="#E56600" stroke-width="2"/>
<path d="M1074.5 338.3L1085.5 343.8L1074.5 349.3Z" fill="#FC7100"/>
<rect x="1074.0" y="341.5" width="11.0" height="11.0" fill="none" stroke="#E56600" stroke-width="2"/>
<circle cx="1079.5" cy="386.2" r="5.8" fill="#FC7100"/>
<circle cx="1079.5" cy="426.5" r="5.8" fill="#FC7100"/>
<rect x="1073.8" y="427.6" width="11.4" height="11.4" fill="#67ABC7"/>
<rect x="1073.8" y="474.9" width="11.4" height="11.4" fill="#FC7100"/>
<rect x="1073.8" y="525.1" width="11.4" height="11.4" fill="#FC7100"/>
<rect x="1073.8" y="532.7" width="11.4" height="11.4" fill="#67ABC7"/>
<rect x="1073.8" y="543.3" width="11.4" height="11.4" fill="#FC7100"/>
<circle cx="1079.5" cy="556.7" r="5.8" fill="#FC7100"/>
<circle cx="1079.5" cy="574.0" r="5.6" fill="none" stroke="#E56600" stroke-width="2"/>
<rect x="1073.8" y="575.7" width="11.4" height="11.4" fill="#FC7100"/>
<rect x="1073.8" y="582.3" width="11.4" height="11.4" fill="#FC7100"/>
<rect x="1073.8" y="591.9" width="11.4" height="11.4" fill="#3E7DC0"/>
<path d="M1074.5 603.9L1085.5 609.4L1074.5 614.9Z" fill="#FC7100"/>
<circle cx="1079.5" cy="621.3" r="5.6" fill="none" stroke="#3E7DC0" stroke-width="2"/>
<path d="M1074.5 622.7L1084.5 627.7L1074.5 632.7Z" fill="none" stroke="#67ABC7" stroke-width="2"/>
<path d="M1074.5 622.7L1084.5 627.7L1074.5 632.7Z" fill="none" stroke="#E56600" stroke-width="2"/>
<circle cx="1079.5" cy="638.5" r="5.8" fill="#FC7100"/>
<circle cx="1079.5" cy="645.0" r="5.8" fill="#FC7100"/>
<circle cx="1079.5" cy="652.0" r="5.8" fill="#FC7100"/>
<rect x="1117.6" y="421.8" width="11.4" height="11.4" fill="#FC7100"/>
<circle cx="1123.3" cy="451.5" r="5.6" fill="none" stroke="#E56600" stroke-width="2"/>
<rect x="1117.6" y="509.0" width="11.4" height="11.4" fill="#3E7DC0"/>
<circle cx="1123.3" cy="522.2" r="5.6" fill="none" stroke="#E56600" stroke-width="2"/>
<path d="M1118.3 523.7L1128.3 528.7L1118.3 533.7Z" fill="none" stroke="#E56600" stroke-width="2"/>
<circle cx="1123.3" cy="538.4" r="5.6" fill="none" stroke="#E56600" stroke-width="2"/>
<circle cx="1123.3" cy="556.7" r="5.6" fill="none" stroke="#E56600" stroke-width="2"/>
<path d="M1118.3 551.7L1128.3 556.7L1118.3 561.7Z" fill="none" stroke="#E56600" stroke-width="2"/>
<rect x="1117.6" y="559.6" width="11.4" height="11.4" fill="#3E7DC0"/>
<rect x="1117.6" y="568.2" width="11.4" height="11.4" fill="#CD122E"/>
<rect x="1117.6" y="584.3" width="11.4" height="11.4" fill="#FC7100"/>
<circle cx="1123.3" cy="597.6" r="5.8" fill="#3E7DC0"/>
<circle cx="1123.3" cy="605.0" r="5.8" fill="#FC7100"/>
<circle cx="1123.3" cy="614.8" r="5.8" fill="#FC7100"/>
<circle cx="1123.3" cy="620.0" r="5.8" fill="#FC7100"/>
<circle cx="1123.3" cy="626.6" r="5.8" fill="#FC7100"/>
<circle cx="1123.3" cy="639.5" r="5.8" fill="#3E7DC0"/>
<rect x="1117.6" y="639.3" width="11.4" height="11.4" fill="#FC7100"/>
<rect x="1117.6" y="645.3" width="11.4" height="11.4" fill="#FC7100"/>
<rect x="1117.8" y="644.8" width="11.0" height="11.0" fill="none" stroke="#3E7DC0" stroke-width="2"/>
<circle cx="1166.8" cy="150.5" r="5.6" fill="none" stroke="#E56600" stroke-width="2"/>
<circle cx="1166.8" cy="193.6" r="5.6" fill="none" stroke="#E56600" stroke-width="2"/>
<path d="M1161.8 215.2L1171.8 220.2L1161.8 225.2Z" fill="none" stroke="#E56600" stroke-width="2"/>
<circle cx="1166.8" cy="297.5" r="5.8" fill="#FC7100"/>
<rect x="1161.3" y="308.1" width="11.0" height="11.0" fill="none" stroke="#E56600" stroke-width="2"/>
<path d="M1161.8 308.6L1171.8 313.6L1161.8 318.6Z" fill="none" stroke="#E56600" stroke-width="2"/>
<rect x="1161.3" y="326.2" width="11.0" height="11.0" fill="none" stroke="#E56600" stroke-width="2"/>
<circle cx="1166.8" cy="345.8" r="5.8" fill="#FC7100"/>
<rect x="1161.1" y="346.1" width="11.4" height="11.4" fill="#FC7100"/>
<path d="M1161.8 404.7L1172.8 410.2L1161.8 415.7Z" fill="#FC7100"/>
<rect x="1161.1" y="416.0" width="11.4" height="11.4" fill="#FC7100"/>
<circle cx="1166.8" cy="526.5" r="5.8" fill="#3E7DC0"/>
<circle cx="1166.8" cy="526.5" r="5.6" fill="none" stroke="#E56600" stroke-width="2"/>
<circle cx="1166.8" cy="539.4" r="5.6" fill="none" stroke="#E56600" stroke-width="2"/>
<rect x="1161.1" y="551.0" width="11.4" height="11.4" fill="#67ABC7"/>
<rect x="1161.1" y="563.9" width="11.4" height="11.4" fill="#FC7100"/>
<circle cx="1166.8" cy="580.4" r="5.6" fill="none" stroke="#E56600" stroke-width="2"/>
<path d="M1161.8 575.4L1171.8 580.4L1161.8 585.4Z" fill="none" stroke="#E56600" stroke-width="2"/>
<path d="M1161.8 594.5L1172.8 600.0L1161.8 605.5Z" fill="#CD122E"/>
<rect x="1161.1" y="584.3" width="11.4" height="11.4" fill="#FC7100"/>
<rect x="1161.1" y="588.3" width="11.4" height="11.4" fill="#FC7100"/>
<circle cx="1166.8" cy="607.5" r="5.8" fill="#FC7100"/>
<path d="M1161.8 612.0L1171.8 617.0L1161.8 622.0Z" fill="none" stroke="#E56600" stroke-width="2"/>
<rect x="1161.3" y="619.0" width="11.0" height="11.0" fill="none" stroke="#E56600" stroke-width="2"/>
<circle cx="1166.8" cy="634.2" r="5.8" fill="#FC7100"/>
<circle cx="1166.8" cy="640.6" r="5.8" fill="#3E7DC0"/>
<circle cx="1166.8" cy="647.0" r="5.8" fill="#FC7100"/>
<rect x="1161.3" y="647.0" width="11.0" height="11.0" fill="none" stroke="#E56600" stroke-width="2"/>
<path d="M430.5 574.9L441.5 580.4L430.5 585.9Z" fill="#797979"/>
<path d="M430.5 634.0L440.5 639.0L430.5 644.0Z" fill="none" stroke="#797979" stroke-width="2"/>
<rect x="1086.9" y="319.4" width="11.0" height="11.0" fill="none" stroke="#C0102B" stroke-width="2"/>
<circle cx="1092.0" cy="492.0" r="5.6" fill="none" stroke="#C0102B" stroke-width="2"/>
<rect x="1086.3" y="527.3" width="11.4" height="11.4" fill="#CD122E"/>
<rect x="1086.3" y="591.9" width="11.4" height="11.4" fill="#797979"/>
<circle cx="1092.0" cy="650.3" r="5.8" fill="#CD122E"/>
</svg></body></html>
